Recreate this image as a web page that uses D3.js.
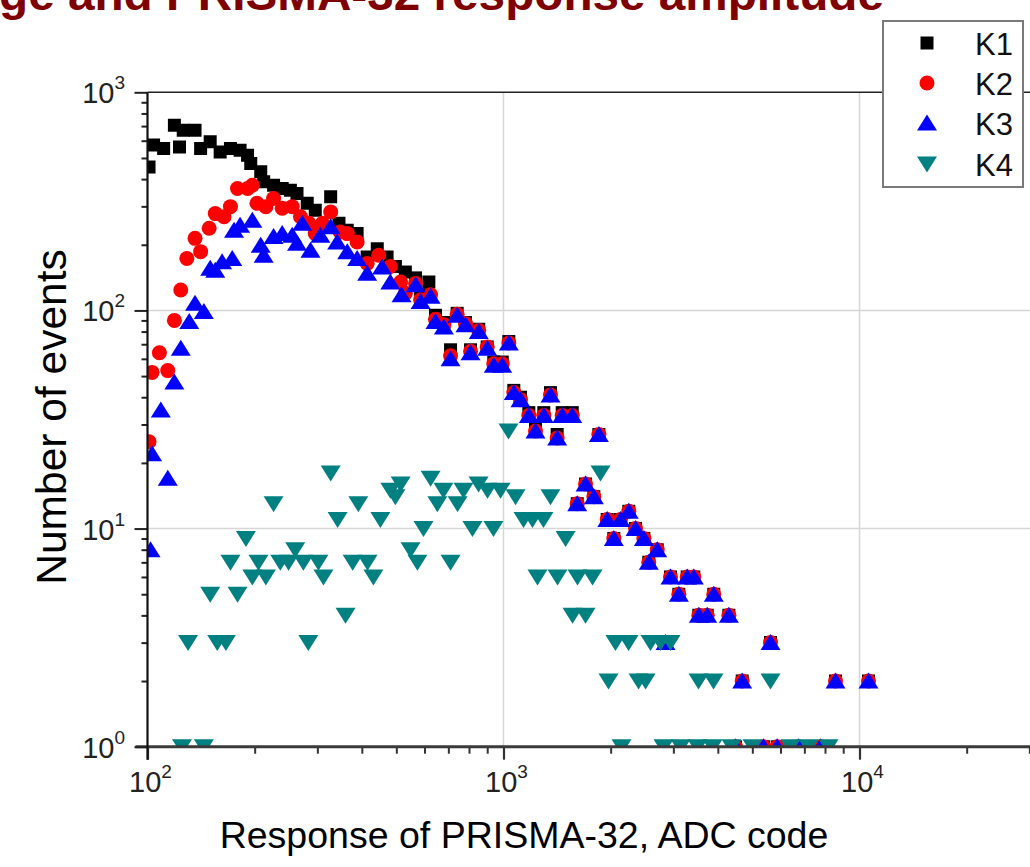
<!DOCTYPE html>
<html><head><meta charset="utf-8">
<script src="https://cdn.jsdelivr.net/npm/d3@7"></script>
<style>body{margin:0;background:#fff;overflow:hidden} svg{display:block} text{font-family:"Liberation Sans",Arial,sans-serif}</style>
</head><body><svg id="c" width="1030" height="867"></svg>
<script>
// ---------- data (ADC code, number of events) ----------
const seriesNames = ["K1", "K2", "K3", "K4"];
const seriesColors = ["#000000", "#ff0000", "#0000ff", "#008080"];

const k1 = [[101,455],[104,573],[111,553],[119,707],[123,562],[126,670],[136,670],[141,553],[150,593],[160,533],[171,553],[182,543],[191,515],[195,472],[208,432],[212,389],[226,375],[239,362],[252,356],[263,344],[281,310],[296,288],[327,332],[345,251],[364,233],[388,225],[414,176],[442,192],[471,176],[497,159],[530,150],[566,141],[585,118],[617,135],[644,95],[680,88],[710,66],[741,97],[782,88],[808,66],[852,82],[900,68],[939,58],[992,58],[1035,72],[1069,43],[1116,40],[1178,34],[1230,29],[1298,34],[1355,42],[1415,27],[1462,34],[1560,34],[1611,13],[1700,16],[1794,14],[1853,27],[1956,11],[2041,9],[2131,11],[2249,12],[2349,10],[2479,9],[2559,7],[2703,8],[2852,3],[2945,6],[3108,5],[3281,6],[3424,6],[3537,4],[3735,4],[3896,5],[4296,4],[4484,1],[4683,2],[5375,1],[5623,3],[5872,1],[6742,1],[7770,1],[8563,2],[10600,2]];

const k2 = [[101,25],[103,52],[108,64],[114,53],[119,90],[124,124],[129,173],[136,214],[141,186],[149,238],[155,278],[164,269],[171,299],[179,362],[191,362],[197,375],[203,310],[215,299],[226,326],[239,294],[255,299],[269,269],[284,251],[296,225],[310,251],[327,283],[348,229],[364,225],[388,206],[414,164],[446,179],[481,159],[514,135],[530,120],[566,133],[585,112],[624,118],[644,91],[680,86],[710,62],[741,96],[782,87],[808,65],[852,81],[900,68],[939,57],[992,57],[1035,71],[1069,42],[1116,39],[1178,33],[1230,28],[1298,33],[1355,41],[1415,26],[1462,33],[1560,33],[1611,13],[1700,16],[1794,14],[1853,27],[1956,11],[2041,9],[2131,11],[2249,12],[2349,10],[2479,9],[2559,7],[2703,8],[2852,3],[2945,6],[3108,5],[3281,6],[3424,6],[3537,4],[3735,4],[3896,5],[4296,4],[4484,1],[4683,2],[5375,1],[5623,3],[5872,1],[6742,1],[7770,1],[8563,2],[10600,2]];

const k3 = [[102,8],[103,22],[109,35],[114,17],[119,47],[124,67],[131,89],[136,108],[144,99],[150,156],[155,153],[162,167],[173,173],[175,233],[182,246],[197,259],[208,199],[212,179],[226,218],[239,225],[255,221],[263,203],[272,251],[287,189],[306,221],[327,242],[341,206],[364,186],[388,173],[414,148],[456,158],[481,135],[517,118],[566,131],[585,110],[624,116],[644,89],[680,84],[710,60],[741,95],[782,86],[808,64],[852,80],[900,67],[939,56],[992,56],[1035,71],[1069,42],[1116,39],[1178,33],[1230,28],[1298,33],[1355,41],[1415,26],[1462,33],[1560,33],[1611,13],[1700,16],[1794,14],[1853,27],[1956,11],[2041,9],[2131,11],[2249,12],[2349,10],[2479,9],[2559,7],[2703,8],[2852,3],[2945,6],[3108,5],[3281,6],[3424,6],[3537,4],[3735,4],[3896,5],[4296,4],[4484,1],[4683,2],[5375,1],[5623,3],[5872,1],[6742,1],[7770,1],[8563,2],[10600,2]];

const k4 = [[125,1],[144,1],[130,3],[150,5],[157,3],[166,3],[171,7],[179,5],[189,9],[197,6],[205,7],[215,6],[226,13],[236,7],[249,7],[260,8],[274,7],[283,3],[302,7],[312,6],[327,18],[342,11],[360,4],[377,7],[391,13],[415,7],[431,6],[451,11],[481,15],[497,14],[514,16],[548,8],[573,7],[596,10],[624,17],[652,13],[678,15],[710,7],[743,13],[772,15],[818,10],[851,16],[902,15],[937,10],[981,15],[1033,28],[1081,14],[1138,11],[1206,11],[1246,6],[1295,11],[1355,14],[1418,6],[1494,9],[1563,4],[1614,6],[1700,4],[1778,6],[1873,18],[1972,2],[2063,3],[2145,1],[2245,3],[2395,2],[2506,2],[2588,3],[2761,3],[2815,1],[2945,3],[3143,1],[3507,1],[3530,2],[3865,1],[3890,2],[4370,1],[5005,1],[5623,2],[6401,1],[7192,1],[8185,1]];

const xMajorTicks = [100, 1000, 10000];
const xMajorExp = ["2", "3", "4"];
const yMajorTicks = [1, 10, 100, 1000];
const yMajorExp = ["0", "1", "2", "3"];
const titleText = "ge and PRISMA-32 response amplitude";
const xLabel = "Response of PRISMA-32, ADC code";
const yLabel = "Number of events";

// ---------- chart ----------
const W = 1030, H = 867;
const svg = d3.select("#c");
svg.append("rect").attr("width", W).attr("height", H).attr("fill", "#fff");

const x = d3.scaleLog().domain([100, 10000]).range([147.5, 859.5]);
const y = d3.scaleLog().domain([1, 1000]).range([746.7, 92.3]);
const xEnd = x(100000), yBot = y(1), yTop = y(1000), xL = x(100);

const minorOf = (lo, hi) => { const out = []; for (let d = lo; d < hi; d *= 10) for (let k = 2; k <= 9; k++) out.push(d * k); return out; };
const xMinor = minorOf(100, 100000);
const yMinor = minorOf(1, 1000);

// grid
const grid = svg.append("g").attr("stroke", "#d6d6d6").attr("stroke-width", 1.5);
[1000, 10000].forEach(v => grid.append("line").attr("x1", x(v)).attr("x2", x(v)).attr("y1", yTop).attr("y2", yBot));
[10, 100].forEach(v => grid.append("line").attr("x1", xL).attr("x2", W).attr("y1", y(v)).attr("y2", y(v)));

// top frame line
svg.append("line").attr("x1", xL).attr("x2", W).attr("y1", yTop).attr("y2", yTop).attr("stroke", "#222").attr("stroke-width", 1.6);

// markers
svg.append("clipPath").attr("id", "clip").append("rect").attr("x", xL).attr("y", yTop).attr("width", xEnd - xL).attr("height", yBot - yTop);
const plot = svg.append("g").attr("clip-path", "url(#clip)");

const shapes = [
  d3.symbol().type(d3.symbolSquare).size(13 * 13)(),
  d3.symbol().type(d3.symbolCircle).size(Math.PI * 7.5 * 7.5)(),
  "M0,-8.5L10,7.5L-10,7.5Z",
  "M0,8.5L10,-7.5L-10,-7.5Z"
];
const allSeries = [k1, k2, k3, k4];
allSeries.forEach((data, i) => {
  plot.append("g").selectAll("path").data(data).join("path")
    .attr("d", shapes[i])
    .attr("transform", d => `translate(${x(d[0])},${y(d[1])})`)
    .attr("fill", seriesColors[i]);
});

// axes
const axStyle = (g, col, w) => { g.selectAll("line").attr("stroke", col).attr("stroke-width", w); g.select(".domain").remove(); };
const gxMinor = svg.append("g").attr("transform", `translate(0,${yBot})`)
  .call(d3.axisBottom(x).tickValues(xMinor).tickSize(7).tickSizeOuter(0).tickFormat(""));
axStyle(gxMinor, "#333", 2);
const gxMajor = svg.append("g").attr("transform", `translate(0,${yBot})`)
  .call(d3.axisBottom(x).tickValues(xMajorTicks.concat([100000])).tickSize(13).tickSizeOuter(0).tickFormat(""));
axStyle(gxMajor, "#333", 2.2);
svg.append("line").attr("x1", xL - 12).attr("x2", W).attr("y1", yBot).attr("y2", yBot).attr("stroke", "#3a3a3a").attr("stroke-width", 3);

const gyMinor = svg.append("g").attr("transform", `translate(${xL},0)`)
  .call(d3.axisLeft(y).tickValues(yMinor).tickSize(6).tickSizeOuter(0).tickFormat(""));
axStyle(gyMinor, "#222", 2);
const gyMajor = svg.append("g").attr("transform", `translate(${xL},0)`)
  .call(d3.axisLeft(y).tickValues(yMajorTicks).tickSize(13).tickSizeOuter(0).tickFormat(""));
axStyle(gyMajor, "#222", 2);
svg.append("line").attr("x1", xL).attr("x2", xL).attr("y1", yTop).attr("y2", yBot + 13).attr("stroke", "#111").attr("stroke-width", 2.2);

// tick labels
yMajorTicks.forEach((v, i) => {
  const t = svg.append("text").attr("x", 125).attr("y", y(v) + 11).attr("text-anchor", "end")
    .attr("fill", "#222").attr("font-size", 29);
  t.append("tspan").text("10");
  t.append("tspan").attr("dy", -14).attr("font-size", 19).text(yMajorExp[i]);
});
xMajorTicks.forEach((v, i) => {
  const t = svg.append("text").attr("x", x(v) + 3).attr("y", 792).attr("text-anchor", "middle")
    .attr("fill", "#222").attr("font-size", 29);
  t.append("tspan").text("10");
  t.append("tspan").attr("dy", -14).attr("font-size", 19).text(xMajorExp[i]);
});

// axis titles
svg.append("text").attr("x", 524).attr("y", 848).attr("text-anchor", "middle")
  .attr("font-size", 37.5).attr("fill", "#000").text(xLabel);
svg.append("text").attr("transform", "translate(66,417) rotate(-90)").attr("text-anchor", "middle")
  .attr("font-size", 42.5).attr("fill", "#000").text(yLabel);

// title (clipped at top edge, as in the source image)
svg.append("text").attr("x", -1).attr("y", 10).attr("font-size", 46).attr("font-weight", "bold")
  .attr("fill", "#7f0000").attr("textLength", 885).attr("lengthAdjust", "spacingAndGlyphs").text(titleText);

// legend
const lg = svg.append("g");
lg.append("rect").attr("x", 883).attr("y", 21).attr("width", 140).attr("height", 166)
  .attr("fill", "#fff").attr("stroke", "#7a7a7a").attr("stroke-width", 2);
const legendY = [43, 83, 123, 164];
seriesNames.forEach((name, i) => {
  lg.append("path").attr("d", shapes[i]).attr("transform", `translate(927,${legendY[i]})`).attr("fill", seriesColors[i]);
  lg.append("text").attr("x", 975).attr("y", legendY[i] + 12).attr("font-size", 31).attr("fill", "#111").text(name);
});
</script></body></html>
